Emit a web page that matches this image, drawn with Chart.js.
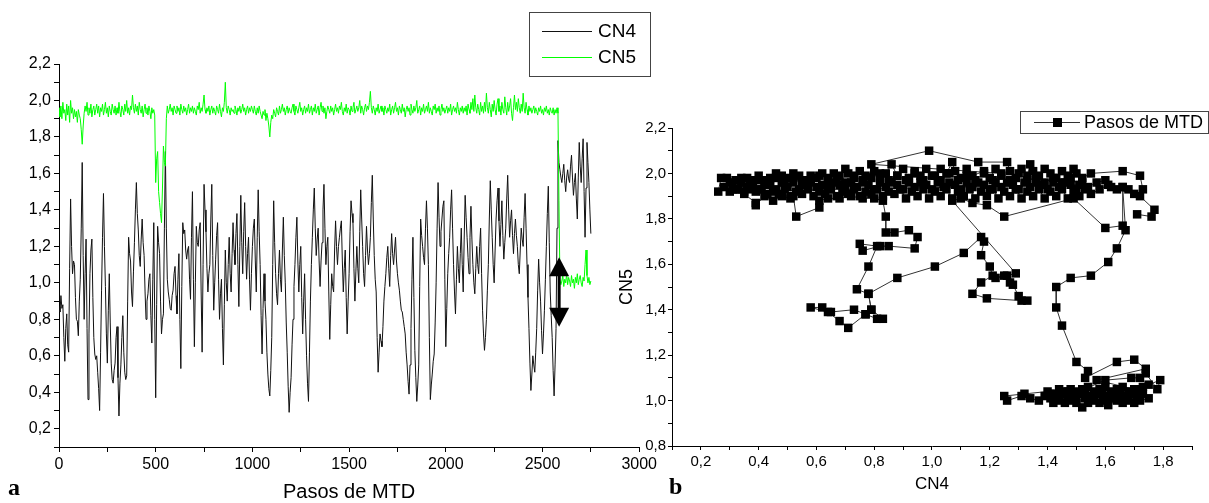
<!DOCTYPE html>
<html>
<head>
<meta charset="utf-8">
<script src="https://cdn.jsdelivr.net/npm/chart.js@4.4.1/dist/chart.umd.min.js"></script>
<style>
  body { margin: 0; width: 1209px; height: 503px; background: #fff; position: relative; overflow: hidden; }
  canvas { position: absolute; top: 0; }
  #stepsChart { left: 0; }
  #phaseChart { left: 600px; }
  .panel-tag { position: absolute; font: bold 24px 'Liberation Serif', serif; line-height: 24px; color: #000; }
</style>
</head>
<body>
<canvas id="stepsChart" width="660" height="503"></canvas>
<canvas id="phaseChart" width="609" height="503"></canvas>
<div class="panel-tag" style="left:8px; top:475px">a</div>
<div class="panel-tag" style="left:669px; top:474px">b</div>
<script>
// MTD run, coordination numbers sampled every 5 steps
const STEP_INTERVAL = 5;

const CN4 = [
  0.87, 0.84, 0.93, 0.86, 0.88, 0.70, 0.57, 0.75, 0.83, 0.66, 0.62, 1.08, 1.46, 1.20, 1.05, 1.12, 1.10, 0.92, 0.80, 0.79,
  0.71, 0.90, 1.02, 1.30, 1.66, 1.15, 0.80, 1.05, 1.24, 0.75, 0.36, 0.72, 1.05, 1.18, 1.24, 0.92, 0.70, 0.61, 0.58, 0.60,
  0.51, 0.42, 0.30, 0.62, 0.96, 1.25, 1.49, 1.20, 0.98, 0.72, 0.56, 0.85, 1.05, 0.78, 0.56, 0.47, 0.45, 0.52, 0.56, 0.70,
  0.76, 0.48, 0.27, 0.45, 0.55, 0.70, 0.82, 0.62, 0.51, 0.47, 0.49, 0.90, 1.25, 1.16, 1.12, 0.95, 0.87, 1.06, 1.22, 1.40,
  1.55, 1.38, 1.29, 1.15, 1.09, 1.24, 1.35, 1.22, 1.15, 0.95, 0.80, 0.90, 0.94, 1.02, 1.05, 0.82, 0.67, 1.02, 1.33, 0.80,
  0.37, 0.88, 1.31, 1.22, 1.16, 0.90, 0.72, 0.80, 0.83, 1.30, 1.72, 1.30, 1.02, 0.95, 0.91, 0.86, 0.85, 0.93, 0.96, 1.05,
  1.09, 0.93, 0.83, 1.02, 1.16, 0.80, 0.53, 0.98, 1.33, 1.27, 1.29, 1.18, 1.13, 1.18, 1.20, 1.02, 0.91, 1.25, 1.50, 1.02,
  0.65, 1.00, 1.31, 1.22, 1.20, 1.29, 1.33, 0.95, 0.62, 1.10, 1.54, 1.40, 1.28, 1.08, 0.95, 1.05, 1.10, 1.35, 1.54, 1.15,
  0.85, 1.00, 1.13, 1.26, 1.33, 1.02, 0.80, 0.94, 1.02, 0.75, 0.55, 0.88, 1.18, 1.00, 0.90, 1.10, 1.25, 1.05, 0.95, 1.16,
  1.33, 1.18, 1.10, 1.27, 1.38, 1.10, 0.87, 1.20, 1.48, 1.22, 1.05, 1.28, 1.44, 1.20, 1.02, 1.16, 1.25, 1.02, 0.85, 1.05,
  1.20, 1.30, 1.35, 1.12, 0.95, 1.25, 1.51, 1.28, 1.10, 0.82, 0.61, 0.86, 1.05, 0.90, 0.80, 0.62, 0.50, 0.42, 0.38, 0.52,
  0.70, 1.10, 1.45, 1.22, 1.05, 0.94, 0.88, 1.05, 1.18, 1.02, 0.95, 1.18, 1.36, 1.15, 1.00, 0.78, 0.62, 0.43, 0.29, 0.40,
  0.48, 0.66, 0.80, 0.98, 1.10, 1.25, 1.36, 1.12, 0.95, 1.10, 1.20, 0.92, 0.72, 0.90, 1.05, 0.80, 0.60, 0.45, 0.35, 0.62,
  0.90, 1.10, 1.25, 1.40, 1.52, 1.30, 1.15, 1.24, 1.30, 1.12, 0.98, 1.12, 1.22, 1.40, 1.54, 1.30, 1.10, 1.20, 1.25, 0.95,
  0.69, 0.88, 1.05, 0.98, 0.95, 1.18, 1.34, 1.20, 1.10, 1.20, 1.25, 1.30, 1.34, 1.12, 0.95, 1.08, 1.18, 0.92, 0.72, 0.90,
  1.05, 1.28, 1.45, 1.38, 1.33, 1.08, 0.90, 1.06, 1.20, 1.08, 1.00, 1.28, 1.51, 1.35, 1.20, 1.05, 0.98, 1.15, 1.31, 1.18,
  1.10, 1.16, 1.25, 1.44, 1.59, 1.35, 1.15, 1.02, 0.95, 0.70, 0.51, 0.62, 0.72, 0.68, 0.65, 0.76, 0.90, 0.98, 1.05, 1.14,
  1.20, 1.08, 0.98, 1.15, 1.27, 1.16, 1.10, 1.18, 1.25, 1.12, 1.05, 1.00, 0.96, 0.90, 0.85, 0.84, 0.80, 0.76, 0.72, 0.62,
  0.55, 0.46, 0.39, 0.55, 0.75, 1.02, 1.25, 0.92, 0.63, 0.48, 0.35, 0.44, 0.55, 0.98, 1.35, 1.26, 1.20, 1.14, 1.10, 1.30,
  1.45, 1.30, 1.10, 0.70, 0.36, 0.44, 0.50, 0.57, 0.61, 0.78, 1.00, 1.30, 1.55, 1.36, 1.20, 1.28, 1.35, 1.42, 1.45, 1.02,
  0.65, 0.86, 1.05, 1.16, 1.25, 1.40, 1.51, 1.30, 1.10, 0.95, 0.83, 1.02, 1.20, 1.08, 1.00, 1.16, 1.30, 1.10, 0.95, 1.24,
  1.48, 1.36, 1.25, 1.14, 1.05, 1.25, 1.42, 1.24, 1.10, 1.00, 0.94, 1.08, 1.20, 1.10, 1.05, 1.20, 1.30, 1.05, 0.85, 0.72,
  0.63, 0.70, 0.80, 0.96, 1.10, 1.35, 1.56, 1.40, 1.25, 1.10, 1.00, 1.18, 1.35, 1.45, 1.52, 1.34, 1.20, 1.32, 1.45, 1.26,
  1.13, 1.22, 1.30, 1.46, 1.59, 1.40, 1.25, 1.34, 1.40, 1.26, 1.16, 1.27, 1.35, 1.26, 1.20, 1.10, 1.05, 1.18, 1.30, 1.24,
  1.20, 1.36, 1.49, 1.30, 1.10, 0.92, 0.75, 0.56, 0.41, 0.50, 0.60, 0.55, 0.51, 0.62, 0.75, 0.96, 1.13, 1.00, 0.90, 0.74,
  0.61, 0.72, 0.85, 1.02, 1.20, 1.38, 1.53, 1.22, 0.95, 0.82, 0.70, 0.52, 0.38, 0.55, 0.75, 1.30, 1.78, 1.66, 1.62, 1.58,
  1.55, 1.60, 1.65, 1.56, 1.50, 1.58, 1.62, 1.57, 1.55, 1.64, 1.70, 1.58, 1.48, 1.55, 1.60, 1.46, 1.35, 1.58, 1.77, 1.64,
  1.55, 1.68, 1.79, 1.50, 1.25, 1.52, 1.77, 1.66, 1.55, 1.40, 1.27
];

const CN5 = [
  1.96, 1.91, 1.97, 1.90, 1.99, 1.93, 1.95, 1.89, 1.98, 1.92, 1.97, 1.88, 2.00, 1.93, 1.96, 1.90, 1.95, 1.91, 1.94, 1.88,
  1.95, 1.92, 1.90, 1.84, 1.76, 1.86, 1.93, 1.97, 1.94, 1.99, 1.92, 1.96, 1.93, 1.98, 1.91, 1.95, 1.97, 1.92, 1.95, 1.98,
  1.93, 1.97, 1.91, 1.96, 1.94, 1.98, 1.92, 1.95, 1.99, 1.93, 1.96, 1.91, 1.97, 1.94, 1.92, 1.98, 1.95, 1.93, 1.97, 1.92,
  1.96, 1.93, 1.99, 1.94, 1.91, 1.97, 1.95, 1.92, 1.98, 1.94, 2.00, 1.93, 1.96, 1.92, 1.97, 1.95, 2.03, 1.96, 1.93, 1.98,
  1.94, 1.97, 1.92, 1.99, 1.95, 1.93, 1.97, 1.91, 1.95, 1.98, 1.93, 1.96, 1.92, 1.97, 1.94, 1.90, 1.96, 1.93, 1.95, 1.92,
  1.55, 1.68, 1.72, 1.50, 1.44, 1.38, 1.33, 1.52, 1.75, 1.66, 1.64, 1.90, 1.97, 1.93, 1.95, 1.98, 1.94, 1.96, 1.92, 1.97,
  1.95, 1.93, 1.97, 1.94, 1.96, 1.92, 1.98, 1.95, 1.93, 1.97, 1.94, 1.96, 1.92, 1.95, 1.98, 1.93, 1.96, 1.94, 1.97, 1.93,
  1.96, 1.94, 1.92, 1.97, 1.95, 1.99, 1.93, 1.96, 1.94, 1.98, 2.03, 1.95, 1.93, 1.96, 1.94, 1.97, 1.92, 1.95, 1.97, 1.93,
  1.96, 1.94, 1.92, 1.97, 1.95, 1.93, 1.98, 1.94, 1.91, 1.96, 1.94, 1.99, 2.10, 1.96, 1.93, 1.97, 1.95, 1.92, 1.96, 1.94,
  1.95, 1.93, 1.97, 1.95, 1.92, 1.96, 1.94, 1.97, 1.93, 1.95, 1.98, 1.94, 1.96, 1.92, 1.95, 1.97, 1.93, 1.96, 1.94, 1.97,
  1.95, 1.93, 1.97, 1.94, 1.92, 1.96, 1.93, 1.97, 1.94, 1.92, 1.90, 1.94, 1.92, 1.95, 1.89, 1.93, 1.90, 1.86, 1.80, 1.88,
  1.92, 1.90, 1.95, 1.93, 1.91, 1.96, 1.94, 1.92, 1.97, 1.93, 1.95, 1.98, 1.94, 1.96, 1.92, 1.95, 1.97, 1.93, 1.96, 1.94,
  1.93, 1.96, 1.98, 1.94, 1.92, 1.97, 1.95, 1.93, 1.96, 1.99, 1.94, 1.96, 1.92, 1.95, 1.97, 1.93, 1.96, 1.94, 1.98, 1.93,
  1.95, 1.97, 1.92, 1.96, 1.94, 1.98, 1.93, 1.95, 1.97, 1.92, 1.96, 1.99, 1.94, 1.97, 1.93, 1.96, 1.90, 1.94, 1.97, 1.95,
  1.93, 1.97, 1.94, 1.96, 1.92, 1.95, 1.98, 1.94, 1.96, 1.93, 1.97, 1.95, 1.99, 1.94, 1.92, 1.96, 1.94, 1.98, 1.93, 1.96,
  1.95, 1.92, 1.97, 1.94, 1.96, 1.99, 1.93, 1.95, 1.97, 1.94, 1.96, 2.00, 1.93, 1.97, 1.95, 1.92, 1.96, 1.98, 1.94, 1.97,
  1.95, 1.99, 2.05, 1.96, 1.93, 1.97, 1.95, 1.92, 1.96, 1.94, 1.98, 1.93, 1.95, 1.97, 1.94, 1.96, 1.92, 1.97, 1.95, 1.93,
  1.96, 1.94, 1.98, 1.92, 1.95, 1.97, 1.93, 1.96, 1.99, 1.94, 1.96, 1.92, 1.97, 1.95, 1.93, 1.98, 1.94, 1.96, 1.91, 1.95,
  1.97, 1.94, 1.96, 1.92, 1.98, 1.95, 1.93, 1.97, 1.94, 1.96, 2.00, 1.93, 1.95, 1.97, 1.92, 1.96, 1.94, 1.98, 1.93, 1.95,
  1.97, 1.94, 1.99, 1.93, 1.96, 1.94, 1.92, 1.97, 1.95, 1.98, 1.93, 1.96, 1.94, 1.97, 1.92, 1.95, 1.98, 1.94, 1.96, 1.93,
  1.95, 1.97, 1.93, 1.96, 1.94, 1.98, 1.92, 1.95, 1.97, 1.94, 1.96, 1.93, 1.99, 1.95, 1.92, 1.96, 1.94, 1.97, 1.93, 1.96,
  1.94, 1.97, 1.92, 1.98, 1.95, 1.93, 1.99, 1.95, 2.01, 1.94, 2.03, 1.96, 1.93, 1.98, 1.95, 1.92, 1.99, 1.94, 1.97, 1.93,
  1.99, 1.94, 2.04, 1.96, 1.93, 1.99, 1.95, 1.91, 1.98, 1.94, 2.00, 1.95, 1.92, 1.98, 2.01, 1.94, 1.97, 1.92, 1.99, 1.95,
  1.93, 2.02, 1.96, 1.92, 1.99, 1.94, 1.97, 2.01, 1.93, 1.89, 1.96, 2.03, 1.95, 1.99, 1.94, 2.01, 1.96, 1.93, 1.98, 1.94,
  2.04, 1.96, 1.93, 1.99, 1.95, 1.92, 1.97, 1.94, 1.96, 1.93, 1.95, 1.97, 1.93, 1.96, 1.94, 1.92, 1.96, 1.94, 1.97, 1.93,
  1.95, 1.92, 1.96, 1.94, 1.97, 1.93, 1.95, 1.92, 1.96, 1.94, 1.93, 1.96, 1.92, 1.95, 1.93, 1.96, 1.93, 1.45, 1.02, 0.99,
  1.01, 1.04, 0.98, 1.02, 1.00, 1.05, 0.99, 1.03, 1.01, 0.98, 1.04, 1.00, 1.02, 0.97, 1.03, 1.00, 1.05, 0.99, 1.02, 1.04,
  1.00, 0.98, 1.03, 1.01, 1.10, 1.18, 1.04, 1.00, 1.03, 0.99, 1.01
];

// double arrow marking the CN5 switch
const SWITCH_STEP = 2586;
const SWITCH_TOP = 1.14;
const SWITCH_BOTTOM = 0.76;

// CN4 vs CN5 trajectory, in visiting order
const RIGHT_TAIL = [[1.71,1.82],[1.76,1.81],[1.77,1.84],[1.72,1.90],[1.73,1.93],[1.72,1.99],[1.66,2.01],[1.55,2.00]];

const BAND_A = [
  [1.52,1.98],[1.50,2.00],[1.49,2.02],[1.47,1.99],[1.45,2.01],[1.43,1.98],[1.41,2.00],[1.39,2.02],[1.37,1.99],[1.35,2.01],
  [1.34,2.04],[1.33,1.99],[1.31,2.02],[1.29,1.98],[1.27,2.01],[1.26,2.05],[1.16,2.05],[0.99,2.10],[0.79,2.04],[1.24,2.00],
  [1.22,2.02],[1.20,1.98],[1.18,2.01],[1.14,1.99],[1.12,2.02],[1.10,1.98],[1.08,2.01],[1.07,2.05],[1.05,2.00],[1.03,2.02],
  [1.01,1.99],[0.98,2.02],[0.96,1.99],[0.94,2.01],[0.92,1.98],[0.90,2.02],[0.88,1.99],[0.86,2.04],[0.84,2.00],[0.82,1.98],
  [0.80,2.01],[0.77,1.99],[0.75,2.01],[0.73,1.98],[0.71,2.00],[0.70,2.02],[0.68,1.99],[0.66,2.00],[0.64,1.98],[0.62,2.00],
  [0.60,1.98],[0.58,1.99],[0.56,1.97],[0.54,1.99],[0.52,2.00],[0.50,1.98],[0.48,1.99],[0.46,2.00],[0.44,1.98],[0.42,1.97],
  [0.40,1.99],[0.38,1.97],[0.36,1.98],[0.34,1.96],[0.32,1.97],[0.29,1.98],[0.27,1.98],[0.26,1.92]
];

const BAND_B = [
  [0.28,1.94],[0.30,1.96],[0.32,1.93],[0.34,1.96],[0.36,1.94],[0.38,1.95],[0.40,1.93],[0.42,1.96],[0.44,1.95],[0.46,1.93],
  [0.48,1.96],[0.50,1.94],[0.52,1.96],[0.54,1.93],[0.56,1.95],[0.58,1.96],[0.60,1.94],[0.62,1.95],[0.64,1.93],[0.66,1.96],
  [0.68,1.95],[0.70,1.93],[0.72,1.96],[0.74,1.94],[0.76,1.96],[0.78,1.95],[0.80,1.93],[0.82,1.96],[0.84,1.94],[0.86,1.96],
  [0.88,1.95],[0.90,1.93],[0.92,1.96],[0.94,1.94],[0.96,1.96],[0.98,1.95],[1.00,1.93],[1.02,1.96],[1.04,1.94],[1.06,1.96],
  [1.08,1.95],[1.10,1.93],[1.12,1.96],[1.14,1.94],[1.16,1.96],[1.18,1.95],[1.20,1.93],[1.22,1.96],[1.24,1.94],[1.26,1.96],
  [1.28,1.95],[1.30,1.93],[1.32,1.96],[1.34,1.94],[1.36,1.96],[1.38,1.95],[1.40,1.93],[1.42,1.96],[1.44,1.94],[1.46,1.96],
  [1.48,1.95],[1.50,1.93],[1.52,1.96],[1.54,1.94],[1.57,1.96],[1.60,1.97],[1.62,1.94],[1.66,1.94],[1.68,1.93],[1.70,1.91]
];

const BAND_C = [
  [1.64,1.93],[1.61,1.95],[1.58,1.93],[1.55,1.91],[1.53,1.93],[1.51,1.90],[1.49,1.92],[1.47,1.89],[1.45,1.93],[1.43,1.90],
  [1.41,1.92],[1.39,1.89],[1.37,1.93],[1.35,1.90],[1.33,1.92],[1.31,1.89],[1.29,1.93],[1.27,1.90],[1.25,1.92],[1.23,1.89],
  [1.21,1.93],[1.19,1.90],[1.17,1.92],[1.15,1.89],[1.13,1.93],[1.11,1.90],[1.09,1.92],[1.07,1.89],[1.05,1.93],[1.03,1.90],
  [1.01,1.92],[0.99,1.89],[0.97,1.93],[0.95,1.90],[0.93,1.92],[0.91,1.89],[0.89,1.93],[0.87,1.91],[0.85,1.92],[0.83,1.90],
  [0.81,1.93],[0.79,1.91],[0.77,1.92],[0.75,1.90],[0.73,1.93],[0.71,1.91],[0.69,1.92],[0.67,1.90],[0.65,1.93],[0.63,1.91],
  [0.61,1.92],[0.59,1.90],[0.57,1.93],[0.55,1.91],[0.53,1.92],[0.51,1.90],[0.49,1.93],[0.47,1.91],[0.45,1.92],[0.43,1.91],
  [0.41,1.93],[0.39,1.92],[0.37,1.93],[0.35,1.92],[0.33,1.93],[0.31,1.93]
];

const BAND_E = [
  [0.31,1.95],[0.34,1.98],[0.37,1.96],[0.40,1.97],[0.43,1.95],[0.46,1.98],[0.49,1.96],[0.52,1.98],[0.55,1.96],[0.58,1.97],
  [0.61,1.99],[0.64,1.96],[0.67,1.98],[0.70,1.96],[0.73,1.99],[0.76,1.97],[0.79,1.98],[0.82,2.00],[0.85,1.97],[0.88,1.99],
  [0.91,1.97],[0.94,2.00],[0.97,1.97],[1.00,1.99],[1.03,1.97],[1.06,2.00],[1.09,1.97],[1.12,1.99],[1.15,1.97],[1.18,2.00],
  [1.21,1.97],[1.24,1.99],[1.27,1.97],[1.30,2.00],[1.33,1.97],[1.36,1.98],[1.39,1.96],[1.42,1.98],[1.45,1.96],[1.48,1.98],
  [1.51,1.95]
];

const BAND_D = [
  [0.30,1.92],[0.35,1.91],[0.39,1.87],[0.39,1.86],[0.42,1.90],[0.45,1.88],[0.48,1.90],[0.51,1.89],[0.52,1.90],[0.53,1.81],
  [0.61,1.85],[0.61,1.88],[0.64,1.89],[0.68,1.89],[0.72,1.90],[0.76,1.89],[0.80,1.89],[0.83,1.88]
];

const LOOP_LEFT = [
  [0.84,1.81],[0.84,1.74],[0.87,1.74],[0.92,1.75],[0.95,1.72],[0.94,1.67],[0.85,1.68],[0.82,1.68],[0.76,1.66],[0.75,1.69],
  [0.81,1.68],[0.78,1.59],[0.74,1.49],[0.78,1.47],[0.79,1.40],[0.77,1.38],[0.73,1.40],[0.65,1.39],[0.62,1.41],[0.58,1.41],
  [0.64,1.39],[0.68,1.35],[0.71,1.32],[0.77,1.38],[0.81,1.36],[0.83,1.36],[0.79,1.40],[0.78,1.47],[0.88,1.54],[1.01,1.59],
  [1.11,1.65],[1.17,1.72]
];

const LOOP_MID = [
  [1.18,1.70],[1.17,1.64],[1.20,1.59],[1.21,1.55],[1.17,1.52],[1.14,1.47],[1.19,1.45],[1.31,1.44],[1.33,1.44],[1.30,1.46],
  [1.28,1.51],[1.27,1.52],[1.25,1.55],[1.22,1.54],[1.26,1.55],[1.29,1.56],[1.07,1.88],[1.10,1.89],[1.14,1.87],[1.19,1.86],
  [1.25,1.81],[1.49,1.89]
];

const DESCENT = [
  [1.60,1.76],[1.66,1.77],[1.66,1.94],[1.67,1.75],[1.64,1.67],[1.61,1.61],[1.55,1.55],[1.48,1.54],[1.43,1.50],[1.43,1.41],
  [1.45,1.33],[1.50,1.17],[1.54,1.13],[1.53,1.10],[1.64,1.17],[1.70,1.18],[1.74,1.14],[1.57,1.09]
];

const LOW_BAND = [
  [1.70,1.05],[1.68,1.04],[1.66,1.06],[1.64,1.05],[1.62,1.04],[1.60,1.06],[1.58,1.05],[1.56,1.04],[1.54,1.06],[1.52,1.05],
  [1.50,1.04],[1.48,1.05],[1.46,1.04],[1.44,1.05],[1.42,1.03],[1.40,1.04],[1.25,1.02],[1.26,1.00],[1.31,1.02],[1.32,1.03],
  [1.34,1.01],[1.37,1.00],[1.39,1.02],[1.41,1.01],[1.43,1.02],[1.45,1.03],[1.47,1.01],[1.49,1.02],[1.51,1.03],[1.53,1.01],
  [1.55,1.02],[1.57,1.03],[1.59,1.01],[1.61,1.02],[1.63,1.03],[1.65,1.01],[1.67,1.02],[1.69,1.03],[1.71,1.02],[1.73,1.03],
  [1.75,1.01],[1.72,1.00],[1.70,0.99],[1.68,1.00],[1.66,0.99],[1.64,1.00],[1.61,0.98],[1.60,1.00],[1.58,0.99],[1.56,1.00],
  [1.54,0.99],[1.52,0.97],[1.50,0.99],[1.48,1.00],[1.46,0.99],[1.44,1.00],[1.42,0.99],[1.60,1.09],[1.69,1.10],[1.72,1.10],
  [1.74,1.12],[1.78,1.05],[1.79,1.09],[1.75,1.07],[1.71,1.04]
];

const LOW_FILL = [
  [1.41,1.03],[1.44,1.01],[1.47,1.04],[1.50,1.01],[1.53,1.04],[1.56,1.02],[1.59,1.04],[1.62,1.01],[1.65,1.04],[1.68,1.02],
  [1.71,1.05],[1.73,1.06]
];

const FONT = "'Liberation Sans', Arial, sans-serif";
const comma = v => v.toFixed(1).replace('.', ',');
const evenTenth = v => Math.round(v * 10) % 2 === 0;

const axisLine = { color: '#000', width: 1 };
const tickMarks = len => ({ drawOnChartArea: false, drawTicks: true, tickLength: len, color: '#000', lineWidth: 1 });

// framed legend in the Origin style
function boxLegend(id, box, rows, drawSample) {
  return {
    id,
    afterDraw(chart) {
      const ctx = chart.ctx;
      ctx.save();
      ctx.strokeStyle = '#444';
      ctx.lineWidth = 1;
      ctx.strokeRect(box.x + 0.5, box.y + 0.5, box.w, box.h);
      chart.data.datasets.forEach((ds, i) => {
        const y = rows.y0 + i * rows.gap;
        drawSample(ctx, ds, y);
        ctx.fillStyle = '#000';
        ctx.font = rows.font + ' ' + FONT;
        ctx.textBaseline = 'middle';
        ctx.fillText(ds.label, rows.textX, y + 1);
      });
      ctx.restore();
    }
  };
}

const stepsLegend = boxLegend('stepsLegend', { x: 529, y: 12, w: 121, h: 64 },
  { y0: 31, gap: 26, textX: 598, font: '19px' },
  (ctx, ds, y) => {
    ctx.strokeStyle = ds.borderColor;
    ctx.beginPath();
    ctx.moveTo(542, y + 0.5);
    ctx.lineTo(592, y + 0.5);
    ctx.stroke();
  });

const switchArrow = {
  id: 'switchArrow',
  afterDatasetsDraw(chart) {
    const { x, y } = chart.scales;
    const ctx = chart.ctx;
    const px = x.getPixelForValue(SWITCH_STEP);
    const top = y.getPixelForValue(SWITCH_TOP);
    const bottom = y.getPixelForValue(SWITCH_BOTTOM);
    const head = 19, half = 10;
    ctx.save();
    ctx.fillStyle = '#000';
    ctx.fillRect(px - 1.5, top + head - 1, 3, bottom - top - 2 * head + 2);
    ctx.beginPath();
    ctx.moveTo(px, top);
    ctx.lineTo(px + half, top + head);
    ctx.lineTo(px - half, top + head);
    ctx.closePath();
    ctx.fill();
    ctx.beginPath();
    ctx.moveTo(px, bottom);
    ctx.lineTo(px + half, bottom - head);
    ctx.lineTo(px - half, bottom - head);
    ctx.closePath();
    ctx.fill();
    ctx.restore();
  }
};

new Chart(document.getElementById('stepsChart'), {
  type: 'line',
  data: {
    datasets: [
      {
        label: 'CN4',
        data: CN4.map((v, i) => ({ x: i * STEP_INTERVAL, y: v })),
        borderColor: '#111',
        borderWidth: 1,
        pointRadius: 0,
        order: 1
      },
      {
        label: 'CN5',
        data: CN5.map((v, i) => ({ x: i * STEP_INTERVAL, y: v })),
        borderColor: '#00ff00',
        borderWidth: 1,
        pointRadius: 0,
        order: 0
      }
    ]
  },
  options: {
    responsive: false,
    devicePixelRatio: 1,
    animation: false,
    layout: { padding: { top: 64, right: 20, left: 0, bottom: 0 } },
    plugins: { legend: { display: false }, tooltip: { enabled: false } },
    scales: {
      x: {
        type: 'linear', min: 0, max: 3000,
        afterFit: s => { s.height = 56; },
        border: axisLine,
        grid: tickMarks(5),
        ticks: {
          stepSize: 250, autoSkip: false, maxRotation: 0, padding: 3,
          color: '#000', font: { family: FONT, size: 16 },
          callback: v => (v % 500 === 0 ? String(v) : '')
        },
        title: {
          display: true, text: 'Pasos de MTD', color: '#000',
          font: { family: FONT, size: 20, lineHeight: 1 },
          padding: { top: 0, bottom: 1 }
        }
      },
      y: {
        min: 0.1, max: 2.2,
        afterFit: s => { s.width = 59; },
        border: axisLine,
        grid: tickMarks(5),
        ticks: {
          stepSize: 0.1, autoSkip: false, padding: 3,
          color: '#000', font: { family: FONT, size: 16 },
          callback: v => (evenTenth(v) ? comma(v) : '')
        }
      }
    }
  },
  plugins: [switchArrow, stepsLegend]
});

const trajectory = [].concat(RIGHT_TAIL, BAND_A, BAND_B, BAND_C, BAND_E, BAND_D, LOOP_LEFT, LOOP_MID, DESCENT, LOW_BAND, LOW_FILL);

const phaseLegend = boxLegend('phaseLegend', { x: 420, y: 111, w: 188, h: 22 },
  { y0: 122, gap: 0, textX: 484, font: '18px' },
  (ctx, ds, y) => {
    ctx.strokeStyle = '#333';
    ctx.beginPath();
    ctx.moveTo(434, y + 0.5);
    ctx.lineTo(480, y + 0.5);
    ctx.stroke();
    ctx.fillStyle = '#000';
    ctx.fillRect(453, y - 4, 9, 9);
  });

new Chart(document.getElementById('phaseChart'), {
  type: 'scatter',
  data: {
    datasets: [{
      label: 'Pasos de MTD',
      data: trajectory.map(([x, y]) => ({ x, y })),
      showLine: true,
      borderColor: '#333',
      borderWidth: 1,
      pointStyle: 'rect',
      pointRadius: 6,
      pointBorderWidth: 0,
      pointBackgroundColor: '#000'
    }]
  },
  options: {
    responsive: false,
    devicePixelRatio: 1,
    animation: false,
    layout: { padding: { top: 128, right: 17, left: 0, bottom: 0 } },
    plugins: { legend: { display: false }, tooltip: { enabled: false } },
    scales: {
      x: {
        type: 'linear', min: 0.1, max: 1.9,
        afterFit: s => { s.height = 57; },
        border: axisLine,
        grid: tickMarks(4),
        ticks: {
          stepSize: 0.1, autoSkip: false, maxRotation: 0, padding: 3,
          color: '#000', font: { family: FONT, size: 15 },
          callback: v => (evenTenth(v) ? comma(v) : '')
        },
        title: {
          display: true, text: 'CN4', color: '#000',
          font: { family: FONT, size: 17, lineHeight: 1 },
          padding: { top: 0, bottom: 10 }
        }
      },
      y: {
        min: 0.8, max: 2.2,
        afterFit: s => { s.width = 72; },
        border: axisLine,
        grid: tickMarks(4),
        ticks: {
          stepSize: 0.1, autoSkip: false, padding: 2,
          color: '#000', font: { family: FONT, size: 15 },
          callback: v => (evenTenth(v) ? comma(v) : '')
        },
        title: {
          display: true, text: 'CN5', color: '#000',
          font: { family: FONT, size: 18, lineHeight: 1 },
          padding: { top: 18, bottom: 0 }
        }
      }
    }
  },
  plugins: [phaseLegend]
});
</script>
</body>
</html>
